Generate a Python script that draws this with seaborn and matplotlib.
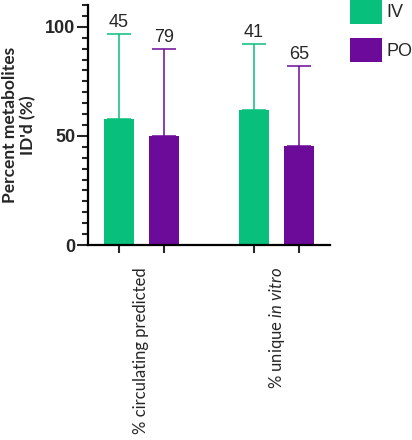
import pandas as pd
import matplotlib
matplotlib.use('Agg')
import matplotlib.pyplot as plt
from matplotlib.ticker import MultipleLocator
import seaborn as sns

"""Chart values"""
categories = ['% circulating predicted', '% unique in vitro']
routes = ['IV', 'PO']
iv_mean = [57.8, 61.8]
po_mean = [50.1, 45.4]
iv_sd = [39.1, 30.4]
po_sd = [39.7, 36.8]
iv_n = [45, 41]
po_n = [79, 65]

colors = {'IV': '#08BF7B', 'PO': '#6C0A99'}


def build_frame():
    rows = []
    for i, cat in enumerate(categories):
        rows.append({'category': cat, 'route': 'IV', 'value': iv_mean[i], 'sd': iv_sd[i], 'n': iv_n[i]})
        rows.append({'category': cat, 'route': 'PO', 'value': po_mean[i], 'sd': po_sd[i], 'n': po_n[i]})
    return pd.DataFrame(rows)


if __name__ == '__main__':
    df = build_frame()

    sns.set_style('ticks')
    plt.rcParams['font.family'] = ['Lato', 'DejaVu Sans']
    plt.rcParams['mathtext.fontset'] = 'custom'
    plt.rcParams['mathtext.rm'] = 'Lato'
    plt.rcParams['mathtext.it'] = 'Lato:italic'

    fig = plt.figure(figsize=(4.12, 4.40), dpi=100)
    ax = fig.add_axes([88 / 412, (440 - 245) / 440, (330 - 88) / 412, 240 / 440])

    sns.barplot(data=df, x='category', y='value', hue='route', palette=colors,
                width=0.667, gap=0.333, errorbar=None, legend=True, ax=ax,
                saturation=1, linewidth=0)

    # upper-only error bars and n labels on top
    tick_pos = []
    for cont, route in zip(ax.containers, routes):
        sub = df[df['route'] == route].reset_index(drop=True)
        for bar, (_, row) in zip(cont, sub.iterrows()):
            x = bar.get_x() + bar.get_width() / 2
            h = bar.get_height()
            tick_pos.append(x)
            ax.errorbar(x, h, yerr=[[0], [row['sd']]], fmt='none', ecolor=colors[route],
                        elinewidth=1.1, capsize=8.3, capthick=1.1)
            ax.text(x, h + row['sd'] + 1.2, f"{row['n']}", ha='center', va='bottom',
                    fontsize=13, family='Liberation Sans')

    ax.set_xlim(-0.396, 1.396)
    ax.set_ylim(0, 110)
    ax.yaxis.set_major_locator(MultipleLocator(50))
    ax.yaxis.set_minor_locator(MultipleLocator(5))
    ax.tick_params(axis='y', which='major', length=8, width=1.5, pad=1, labelsize=13)
    ax.tick_params(axis='y', which='minor', length=4.5, width=1.5)
    for lab in ax.get_yticklabels():
        lab.set_fontweight('bold')
        lab.set_family('Liberation Sans')

    ax.set_xticks([0, 1])
    ax.set_xticklabels(['% circulating predicted', '% unique $\\it{in\\ vitro}$'],
                       rotation=90, fontsize=12, va='top', ha='center')
    ax.tick_params(axis='x', which='major', length=0, pad=16)
    ax.set_xticks(sorted(tick_pos), minor=True)
    ax.tick_params(axis='x', which='minor', length=6, width=1.5)
    ax.set_xlabel('')

    ax.set_ylabel("Percent metabolites\nID'd (%)", fontsize=12.5, fontweight='bold', linespacing=1.1)
    ax.yaxis.set_label_coords(-0.215, 0.5)

    sns.despine(ax=ax)
    for side in ['left', 'bottom']:
        ax.spines[side].set_linewidth(1.6)
        ax.spines[side].set_color('black')

    handles, labels = ax.get_legend_handles_labels()
    ax.legend(handles, labels, loc='upper left', bbox_to_anchor=(350 / 412, 441 / 440),
              bbox_transform=fig.transFigure, frameon=False, borderpad=0, borderaxespad=0,
              handlelength=1.75, handleheight=1.75, handletextpad=0.25, labelspacing=0.75,
              prop={'family': 'Liberation Sans', 'size': 13})

    plt.savefig('out.png', dpi=100)
    plt.close()
